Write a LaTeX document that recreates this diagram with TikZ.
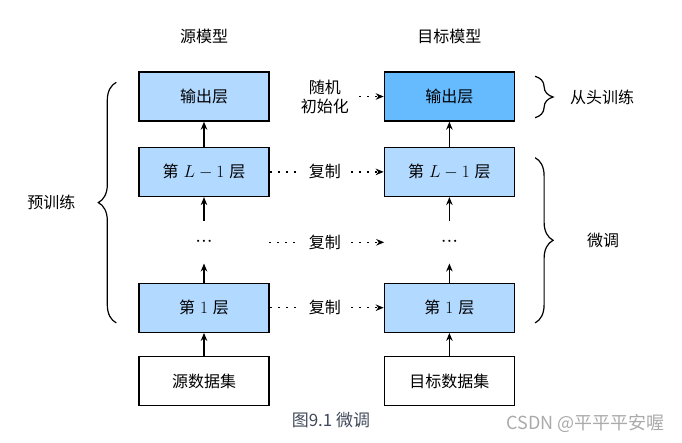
\documentclass[tikz,border=0pt]{standalone}
\usepackage[no-math]{fontspec}
\setmainfont{Noto Sans CJK SC}
\usepackage{tikz}
\usetikzlibrary{calc}
\usetikzlibrary{arrows.meta}
\usetikzlibrary{decorations.pathreplacing}
\usetikzlibrary{positioning}
\definecolor{layerblue}{RGB}{178,217,255}
\definecolor{headblue}{RGB}{102,187,255}
\definecolor{captiongray}{RGB}{64,74,90}
\definecolor{markgray}{RGB}{170,170,170}

\begin{document}
\begin{tikzpicture}[x=1pt, y=1pt,
      layer/.style ={rectangle, draw=black, line width=1.4pt, fill=layerblue, minimum width=130pt, minimum height=49pt, font=\fontsize{16}{19}\selectfont},
      head/.style ={layer, fill=headblue},
      dataset/.style ={layer, fill=white},
      gap/.style ={rectangle, minimum width=130pt, minimum height=42pt, font=\fontsize{22}{22}\selectfont},
      tag/.style ={inner sep=0pt, font=\fontsize{16}{19}\selectfont, align=center},
      copytag/.style ={tag, inner xsep=10pt},
      link/.style ={line width=1.4pt, dash pattern=on 2pt off 6pt},
      up/.style ={-{Stealth[length=8pt, width=6.5pt]}, line width=1.4pt},
      arrowhead/.style ={-{Stealth[length=8pt, width=6.5pt]}},
      brace/.style ={decorate, decoration={brace, amplitude=18pt}, line width=1.2pt},
      node distance=24pt
    ]
    \useasboundingbox (0,0) rectangle (682,442);
    % source model
    \node [layer] (src_out) at (204,345.5) {输出层} ;
    \node [layer] (src_L) [below=25pt of src_out] {第\hspace{5pt}$L-1$\hspace{5pt}层} ;
    \node [gap] (src_gap) [below=24pt of src_L] {$\mathord{\cdot}\mathord{\cdot}\mathord{\cdot}$} ;
    \node [layer] (src_one) [below=19pt of src_gap] {第\hspace{5pt}$1$\hspace{5pt}层} ;
    \node [dataset] (src_data) [below=23pt of src_one] {源数据集} ;
    \node [tag] (src_title) [above=27pt of src_out] {源模型} ;
    % target model
    \node [head] (tgt_out) [right=114pt of src_out] {输出层} ;
    \node [layer] (tgt_L) [below=25pt of tgt_out] {第\hspace{5pt}$L-1$\hspace{5pt}层} ;
    \node [gap] (tgt_gap) [below=24pt of tgt_L] {$\mathord{\cdot}\mathord{\cdot}\mathord{\cdot}$} ;
    \node [layer] (tgt_one) [below=19pt of tgt_gap] {第\hspace{5pt}$1$\hspace{5pt}层} ;
    \node [dataset] (tgt_data) [below=23pt of tgt_one] {目标数据集} ;
    \node [tag] (tgt_title) [above=27pt of tgt_out] {目标模型} ;

    \foreach \m in {src, tgt} {
      \draw [up] (\m_L) -- (\m_out) ;
      \draw [up] (\m_gap) -- (\m_L) ;
      \draw [up] (\m_one) -- (\m_gap) ;
      \draw [up] (\m_data) -- (\m_one) ;
    }

    % between the two models
    \path (src_out) -- node [tag, pos=0.484, inner xsep=10pt] (init_tag) {随机\\初始化} (tgt_out) ;
    \draw [link, arrowhead] (init_tag) -- (tgt_out) ;
    \foreach \r in {L, gap, one} {
      \path (src_\r) -- node [copytag, pos=0.484] (copy_\r) {复制} (tgt_\r) ;
      \draw [link] (src_\r) -- (copy_\r) ;
      \draw [link, arrowhead] (copy_\r) -- (tgt_\r) ;
    }

    % braces
    \draw [brace] ([xshift=-22pt,yshift=10pt]src_one.south west) -- node [tag, xshift=-65pt] (pre_tag) {预训练} ([xshift=-22pt,yshift=-11pt]src_out.north west) ;
    \draw [brace] ([xshift=20pt,yshift=-5pt]tgt_out.north east) -- node [tag, xshift=67pt] (scratch_tag) {从头训练} ([xshift=20pt,yshift=4pt]tgt_out.south east) ;
    \draw [brace] ([xshift=20pt,yshift=-11pt]tgt_L.north east) -- node [tag, xshift=68pt] (tune_tag) {微调} ([xshift=20pt,yshift=10pt]tgt_one.south east) ;

    \node [inner sep=0pt, text=captiongray, font=\fontsize{17}{20}\selectfont] (caption) at (331,22) {图9.1 微调} ;
    \node [inner sep=0pt, anchor=east, text=markgray, font=\fontsize{18}{20}\selectfont] (mark) at (665,19) {CSDN @平平平安喔} ;
  \end{tikzpicture}
\end{document}
